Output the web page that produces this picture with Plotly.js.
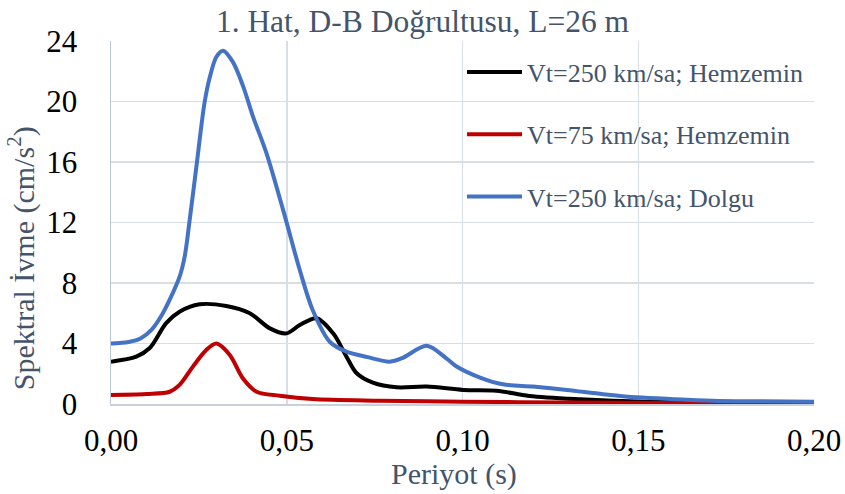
<!DOCTYPE html>
<html>
<head>
<meta charset="utf-8">
<script src="https://cdn.plot.ly/plotly-3.0.1.min.js"></script>
<style>html,body{margin:0;padding:0;background:#fff;}#chart{width:845px;height:494px;}</style>
</head>
<body>
<div id="chart"></div>
<script>
// Series: Vt=250 km/sa; Hemzemin
var xHem250 = [0, 0.0072, 0.011, 0.0157, 0.0195, 0.0252, 0.0328, 0.0395, 0.0452, 0.0499, 0.0537, 0.0585, 0.0632, 0.067, 0.0699, 0.0745, 0.0813, 0.0898, 0.1002, 0.1097, 0.119, 0.1335, 0.1525, 0.175, 0.2];
var yHem250 = [2.8, 3.13, 3.7, 5.35, 6.1, 6.59, 6.48, 6.0, 5.0, 4.67, 5.22, 5.67, 4.67, 3.13, 2.03, 1.41, 1.1, 1.15, 0.93, 0.88, 0.53, 0.31, 0.15, 0.1, 0.08];

// Series: Vt=75 km/sa; Hemzemin
var xHem75 = [0, 0.01, 0.0167, 0.0195, 0.0233, 0.0271, 0.030, 0.0338, 0.0375, 0.0414, 0.048, 0.0574, 0.0765, 0.1, 0.13, 0.16, 0.2];
var yHem75 = [0.6, 0.66, 0.81, 1.26, 2.47, 3.57, 4.0, 3.24, 1.7, 0.81, 0.55, 0.33, 0.22, 0.15, 0.1, 0.06, 0.03];

// Series: Vt=250 km/sa; Dolgu
var xDolgu250 = [0, 0.005, 0.0085, 0.0115, 0.0145, 0.0175, 0.0195, 0.021, 0.0224, 0.0243, 0.0266, 0.0281, 0.0300, 0.0319, 0.0347, 0.0376, 0.0404, 0.0442, 0.049, 0.0537, 0.0574, 0.0623, 0.067, 0.073, 0.0793, 0.083, 0.0898, 0.0955, 0.0982, 0.105, 0.1115, 0.12, 0.1297, 0.14, 0.1496, 0.16, 0.171, 0.185, 0.2];
var yDolgu250 = [4.0, 4.1, 4.35, 4.9, 5.9, 7.3, 8.4, 9.8, 12.2, 15.7, 19.9, 21.6, 22.96, 23.36, 22.6, 21.0, 19.0, 16.6, 12.8, 8.86, 6.2, 4.1, 3.46, 3.1, 2.8, 3.05, 3.85, 3.0, 2.5, 1.75, 1.3, 1.15, 0.93, 0.65, 0.44, 0.32, 0.22, 0.18, 0.15];

var seriesNames = ["Vt=250 km/sa; Hemzemin", "Vt=75 km/sa; Hemzemin", "Vt=250 km/sa; Dolgu"];
var xTickVals = [0, 0.05, 0.10, 0.15, 0.20];
var yTickVals = [0, 4, 8, 12, 16, 20, 24];

var chartTitle = "1. Hat, D-B Doğrultusu, L=26 m";
var xTitle = "Periyot (s)";
var yTitle = "Spektral İvme (cm/s<sup>2</sup>)";

var serif = "Liberation Serif";
var slate = "#44546a";

function mk(x, y, name, color, grp) {
  return {x: x, y: y, name: name, type: "scatter", mode: "lines",
    legendgroup: grp,
    line: {color: color, width: 4, shape: "spline", smoothing: 0.9}};
}

var data = [
  mk(xHem250, yHem250, seriesNames[0], "#000000", "g1"),
  mk(xHem75, yHem75, seriesNames[1], "#c00000", "g2"),
  mk(xDolgu250, yDolgu250, seriesNames[2], "#4472c4", "g3")
];

var layout = {
  width: 845, height: 494, autosize: false,
  paper_bgcolor: "#ffffff", plot_bgcolor: "#ffffff",
  separators: ", ",
  font: {family: serif},
  margin: {l: 111, r: 31, t: 41, b: 90},
  title: {text: chartTitle, font: {family: serif, size: 31.5, color: slate},
          xref: "container", x: 0.5, xanchor: "center", yref: "container", y: 0.957, yanchor: "middle"},
  xaxis: {range: [0, 0.2], tickvals: xTickVals, tickformat: ".2f",
          showgrid: true, gridcolor: "#d9dee6", gridwidth: 1.5, zeroline: false,
          showline: true, linecolor: "#c8d0dc", linewidth: 1.5,
          ticks: "outside", ticklen: 8, tickcolor: "rgba(0,0,0,0)",
          tickfont: {family: serif, size: 31, color: "#000000"}},
  yaxis: {range: [0, 24], tickvals: yTickVals,
          showgrid: true, gridcolor: "#d9dee6", gridwidth: 1.5, zeroline: false,
          showline: true, linecolor: "#bcc6d4", linewidth: 1.5,
          ticks: "outside", ticklen: 26, tickcolor: "rgba(0,0,0,0)",
          tickfont: {family: serif, size: 31, color: "#000000"}},
  annotations: [
    {text: yTitle, textangle: -90, xref: "paper", yref: "paper",
     x: -0.127, y: 0.401, xanchor: "center", yanchor: "middle", showarrow: false,
     font: {family: serif, size: 30, color: slate}},
    {text: xTitle, xref: "paper", yref: "paper",
     x: 0.4886, y: -0.194, xanchor: "center", yanchor: "middle", showarrow: false,
     font: {family: serif, size: 30, color: slate}}
  ],
  showlegend: true,
  legend: {x: 0.4993, y: 0.979, xanchor: "left", yanchor: "top",
           bgcolor: "rgba(0,0,0,0)", borderwidth: 0,
           traceorder: "grouped", tracegroupgap: 25.5, itemwidth: 55,
           font: {family: serif, size: 26, color: slate}}
};

Plotly.newPlot("chart", data, layout, {displayModeBar: false, staticPlot: true});
</script>
</body>
</html>
